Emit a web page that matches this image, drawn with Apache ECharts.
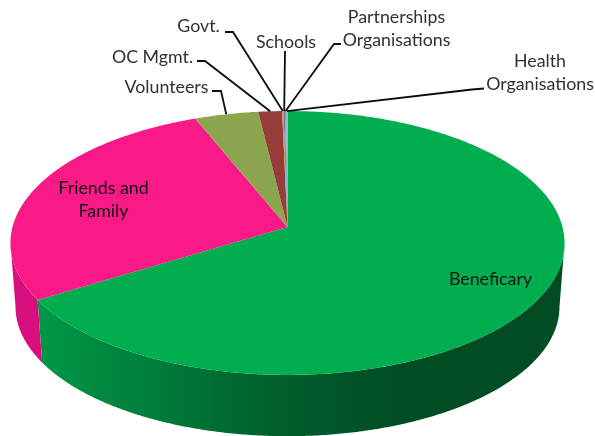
<!DOCTYPE html>
<html>
<head>
<meta charset="utf-8">
<style>html,body{margin:0;padding:0;background:#fff}#chart{width:595px;height:436px}</style>
<script src="https://cdn.jsdelivr.net/npm/echarts@6/dist/echarts.min.js"></script>
</head>
<body>
<div id="chart"></div>
<script>
// Share of support by source, percent
const categories = ['Beneficary', 'Friends and\nFamily', 'Volunteers', 'OC Mgmt.', 'Govt.', 'Schools', 'Partnerships\nOrganisations', 'Health\nOrganisations'];
const shares = [66.2, 27.7, 4.2, 1.55, 0.09, 0.09, 0.09, 0.08];

const topColors = ['#00ae50', '#fa1a87', '#8ca650', '#963c3a', '#e08a3c', '#4f81bd', '#4bacc6', '#a6a6a6'];
const wallColors = ['#009a48', '#d8107f', '#7a9044', '#7f322f', '#c0772f', '#44709f', '#3f93a8', '#8d8d8d'];

// Perspective disc: a unit circle seen from above and in front
const view = { x0: 287.5, y0: 227, halfW: 275, halfH: 130, persp: 0.121 };
const floor = { x0: 287.5, y0: 291, halfW: 270, halfH: 127.6, persp: 0.121 };

// Label anchors and leader routes, in pixels
const labelPlacement = [
  { x: 490.5, y: 279 },
  { x: 103.5, y: 200 },
  { x: 166.5, y: 87, elbow: [[212, 91], [221, 91]] },
  { x: 152.5, y: 57, elbow: [[197, 61], [205, 61]] },
  { x: 198.5, y: 26, elbow: [[225, 32], [233, 32]] },
  { x: 286, y: 42, elbow: [[285, 51]] },
  { x: 396.5, y: 29, elbow: [[341, 44], [334, 44]] },
  { x: 540, y: 72.5, elbow: [[484, 88.5], [472, 89.5]] }
];

const total = shares.reduce(function (a, b) { return a + b; }, 0);

function project(p, deg) {
  const t = deg * Math.PI / 180;
  const u = Math.sin(t), v = -Math.cos(t);
  const s = 1 - p.persp * v;
  return [p.x0 + p.halfW * u / s, p.y0 + p.halfH * v / s];
}

function arcPoints(p, from, to) {
  const pts = [];
  const n = Math.max(2, Math.ceil((to - from) / 0.5));
  for (let i = 0; i <= n; i++) pts.push(project(p, from + (to - from) * i / n));
  return pts;
}

// Horizontal shading of the rim, darkest towards the right
function rimFill(color) {
  const c = echarts.color;
  const dark = c.modifyHSL(color, null, null, 0.15);
  return {
    type: 'linear', global: true, x: 30, y: 0, x2: 400, y2: 0,
    colorStops: [
      { offset: 0, color: color },
      { offset: 0.32, color: c.lerp(0.36, [color, dark]) },
      { offset: 0.67, color: c.lerp(0.77, [color, dark]) },
      { offset: 1, color: dark }
    ]
  };
}

const RIM_FROM = 97, RIM_TO = 263;

function startOf(i) {
  let sum = 0;
  for (let k = 0; k < i; k++) sum += shares[k];
  return sum / total * 360;
}

function renderSlice(params, api) {
  const i = params.dataIndex;
  const start = startOf(i);
  const end = start + api.value(1) / total * 360;
  const children = [];

  // Rim
  const a = Math.max(start, RIM_FROM), b = Math.min(end, RIM_TO);
  if (b > a) {
    const rim = arcPoints(view, a, b).concat(arcPoints(floor, a, b).reverse());
    children.push({
      type: 'polygon', z2: 1,
      shape: { points: rim },
      style: { fill: rimFill(wallColors[i]) }
    });
  }

  // Top face
  const face = [[view.x0, view.y0]].concat(arcPoints(view, start, end));
  children.push({
    type: 'polygon', z2: 2,
    shape: { points: face },
    style: { fill: topColors[i] }
  });

  return { type: 'group', children: children };
}

function renderLabel(params, api) {
  const i = params.dataIndex;
  const start = startOf(i);
  const mid = start + api.value(1) / total * 180;
  const place = labelPlacement[i];
  const children = [];
  if (place.elbow) {
    children.push({
      type: 'polyline', z2: 5,
      shape: { points: place.elbow.concat([project(view, mid)]) },
      style: { fill: null, stroke: '#0d0d0d', lineWidth: 1.8 }
    });
  }
  children.push({
    type: 'text', z2: 6,
    style: {
      x: place.x, y: place.y, text: categories[i],
      font: '17.8px Lato', fill: i < 2 ? '#141414' : '#303030',
      align: 'center', verticalAlign: 'middle', lineHeight: 23
    }
  });
  return { type: 'group', children: children };
}

const rows = categories.map(function (name, i) { return [name, shares[i]]; });

const chart = echarts.init(document.getElementById('chart'), null, { renderer: 'canvas' });
chart.setOption({
  animation: false,
  backgroundColor: '#ffffff',
  series: [
    { type: 'custom', coordinateSystem: 'none', data: rows, renderItem: renderSlice, silent: true, z: 1 },
    { type: 'custom', coordinateSystem: 'none', data: rows, renderItem: renderLabel, silent: true, z: 2 }
  ]
});
</script>
</body>
</html>
